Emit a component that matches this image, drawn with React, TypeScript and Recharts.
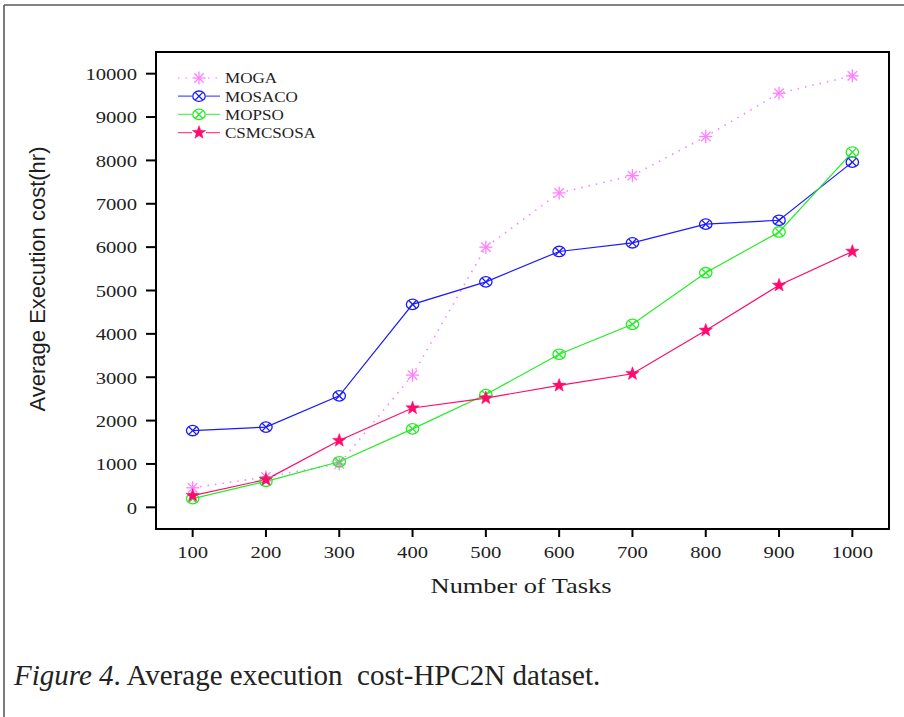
import React from 'react';
import { LineChart, Line, XAxis, YAxis, ReferenceArea, Label } from 'recharts';

const tasks = [100, 200, 300, 400, 500, 600, 700, 800, 900, 1000];
const moga = [450, 700, 1000, 3050, 6000, 7250, 7650, 8550, 9550, 9950];
const mosaco = [1770, 1850, 2570, 4680, 5200, 5900, 6100, 6530, 6620, 7960];
const mopso = [200, 600, 1050, 1810, 2600, 3530, 4220, 5410, 6350, 8190];
const csmcsosa = [270, 640, 1540, 2290, 2520, 2810, 3080, 4080, 5120, 5900];

const xTicks = [100, 200, 300, 400, 500, 600, 700, 800, 900, 1000];
const xMinorTicks = [150, 250, 350, 450, 550, 650, 750, 850, 950];
const yTicks = [0, 1000, 2000, 3000, 4000, 5000, 6000, 7000, 8000, 9000, 10000];

const seriesNames = ['MOGA', 'MOSACO', 'MOPSO', 'CSMCSOSA'];
const COLORS = { MOGA: '#ff80ff', MOSACO: '#1a1aff', MOPSO: '#22ee22', CSMCSOSA: '#ff0a6e' };

const data = tasks.map((t, i) => ({
  tasks: t,
  MOGA: moga[i],
  MOSACO: mosaco[i],
  MOPSO: mopso[i],
  CSMCSOSA: csmcsosa[i],
}));

const SERIF = '"Liberation Serif", "Times New Roman", serif';
const SANS = '"Liberation Sans", Arial, sans-serif';
const TXT = '#1e1e1e';

function Asterisk({ cx, cy, color }: any) {
  const r = 6.5;
  const d = r * 0.72;
  return (
    <g stroke={color} strokeWidth={1.3}>
      <line x1={cx - r} y1={cy} x2={cx + r} y2={cy} />
      <line x1={cx} y1={cy - r} x2={cx} y2={cy + r} />
      <line x1={cx - d} y1={cy - d} x2={cx + d} y2={cy + d} />
      <line x1={cx - d} y1={cy + d} x2={cx + d} y2={cy - d} />
    </g>
  );
}

function CircleX({ cx, cy, color }: any) {
  const rx = 6.2;
  const ry = 5.2;
  const d = 3.8;
  return (
    <g stroke={color} strokeWidth={1.3} fill="none">
      <ellipse cx={cx} cy={cy} rx={rx} ry={ry} />
      <line x1={cx - d} y1={cy - d} x2={cx + d} y2={cy + d} />
      <line x1={cx - d} y1={cy + d} x2={cx + d} y2={cy - d} />
    </g>
  );
}

function Star({ cx, cy, color }: any) {
  const R = 7;
  const r = 2.9;
  const pts: string[] = [];
  for (let i = 0; i < 10; i++) {
    const ang = -Math.PI / 2 + (i * Math.PI) / 5;
    const rad = i % 2 === 0 ? R : r;
    pts.push(`${cx + rad * Math.cos(ang)},${cy + rad * Math.sin(ang)}`);
  }
  return <polygon points={pts.join(' ')} fill={color} stroke={color} strokeWidth={0.5} />;
}

function markerFor(name: string, cx: number, cy: number) {
  const color = (COLORS as any)[name];
  if (name === 'MOGA') return <Asterisk cx={cx} cy={cy} color={color} />;
  if (name === 'CSMCSOSA') return <Star cx={cx} cy={cy} color={color} />;
  return <CircleX cx={cx} cy={cy} color={color} />;
}

const makeDot = (name: string) => (props: any) => {
  const { cx, cy, index } = props;
  if (cx == null || cy == null) return <g key={`${name}-${index}`} />;
  return <g key={`${name}-${index}`}>{markerFor(name, cx, cy)}</g>;
};

const XTick = (props: any) => {
  const { x, y, payload } = props;
  return (
    <text
      transform={`translate(${x},${y + 12}) scale(1.18,1)`}
      textAnchor="middle"
      fontFamily={SERIF}
      fontSize={17.5}
      fill={TXT}
    >
      {payload.value}
    </text>
  );
};

const YTick = (props: any) => {
  const { x, y, payload } = props;
  return (
    <text
      transform={`translate(${x},${y + 6.3}) scale(1.18,1)`}
      textAnchor="end"
      fontFamily={SERIF}
      fontSize={17.5}
      fill={TXT}
    >
      {payload.value}
    </text>
  );
};

const LegendBox = () => (
  <svg
    width={200}
    height={90}
    style={{ position: 'absolute', left: 178, top: 70, overflow: 'visible' }}
  >
    {seriesNames.map((name, i) => {
      const y = 8 + i * 18.2;
      const color = (COLORS as any)[name];
      return (
        <g key={name}>
          <line
            x1={0}
            y1={y}
            x2={42}
            y2={y}
            stroke={color}
            strokeWidth={name === 'MOGA' ? 1.6 : 1.2}
            strokeDasharray={name === 'MOGA' ? '1.5 6' : undefined}
            opacity={0.75}
          />
          <rect x={14} y={y - 7} width={14} height={14} fill="white" />
          {markerFor(name, 21, y)}
          <text
            transform={`translate(47,${y + 5.4}) scale(1.1,1)`}
            fontFamily={SERIF}
            fontSize={15.5}
            fill={TXT}
          >
            {name}
          </text>
        </g>
      );
    })}
  </svg>
);

export default function App() {
  return (
    <div style={{ position: 'absolute', left: 0, top: 0, width: 904, height: 717, background: '#fff' }}>
      <svg width={904} height={717} style={{ position: 'absolute', left: 0, top: 0 }}>
        <line x1={4} y1={5} x2={904} y2={5} stroke="#5a5a5a" strokeWidth={1.6} />
        <line x1={4} y1={5} x2={4} y2={717} stroke="#5a5a5a" strokeWidth={1.6} />
        <text x={14} y={685} fontFamily={SERIF} fontSize={29} fill="#222" style={{ whiteSpace: 'pre' }}>
          <tspan fontStyle="italic">Figure 4</tspan>
          <tspan>{'. Average execution  cost-HPC2N dataset.'}</tspan>
        </text>
      </svg>
      <div style={{ position: 'absolute', left: 0, top: 0 }}>
        <LineChart
          width={904}
          height={717}
          data={data}
          margin={{ top: 52, right: 15, left: 56, bottom: 138 }}
        >
          <XAxis
            dataKey="tasks"
            type="number"
            domain={[50, 1050]}
            ticks={xTicks}
            tick={<XTick />}
            tickSize={8}
            tickMargin={9}
            height={50}
            axisLine={{ stroke: '#000', strokeWidth: 2 }}
            tickLine={{ stroke: '#000', strokeWidth: 2 }}
            interval={0}
          >
            <Label
              content={() => (
                <text
                  transform="translate(521,593) scale(1.2,1)"
                  textAnchor="middle"
                  fontFamily={SERIF}
                  fontSize={22}
                  fill={TXT}
                >
                  Number of Tasks
                </text>
              )}
            />
          </XAxis>
          <XAxis
            xAxisId="minor"
            dataKey="tasks"
            type="number"
            domain={[50, 1050]}
            ticks={xMinorTicks}
            tick={false}
            tickSize={4}
            mirror
            height={0}
            axisLine={false}
            tickLine={{ stroke: '#000', strokeWidth: 1.5 }}
            interval={0}
          />
          <YAxis
            type="number"
            domain={[-500, 10500]}
            ticks={yTicks}
            tick={<YTick />}
            tickSize={10}
            tickMargin={9}
            width={100}
            axisLine={{ stroke: '#000', strokeWidth: 2 }}
            tickLine={{ stroke: '#000', strokeWidth: 2 }}
            interval={0}
          >
            <Label
              content={() => (
                <text
                  transform="translate(45,279) rotate(-90)"
                  textAnchor="middle"
                  fontFamily={SANS}
                  fontSize={22}
                  fill={TXT}
                >
                  Average Execution cost(hr)
                </text>
              )}
            />
          </YAxis>
          <ReferenceArea
            x1={50}
            x2={1050}
            y1={-500}
            y2={10500}
            fill="none"
            fillOpacity={0}
            stroke="#000"
            strokeWidth={2}
            ifOverflow="visible"
          />
          <Line
            dataKey="MOGA"
            stroke={COLORS.MOGA}
            strokeWidth={1.6}
            strokeDasharray="1.5 6"
            dot={makeDot('MOGA')}
            activeDot={false}
            isAnimationActive={false}
            type="linear"
          />
          <Line
            dataKey="MOSACO"
            stroke={COLORS.MOSACO}
            strokeWidth={1.2}
            dot={makeDot('MOSACO')}
            activeDot={false}
            isAnimationActive={false}
            type="linear"
          />
          <Line
            dataKey="MOPSO"
            stroke={COLORS.MOPSO}
            strokeWidth={1.2}
            dot={makeDot('MOPSO')}
            activeDot={false}
            isAnimationActive={false}
            type="linear"
          />
          <Line
            dataKey="CSMCSOSA"
            stroke={COLORS.CSMCSOSA}
            strokeWidth={1.2}
            dot={makeDot('CSMCSOSA')}
            activeDot={false}
            isAnimationActive={false}
            type="linear"
          />
        </LineChart>
      </div>
      <LegendBox />
    </div>
  );
}
